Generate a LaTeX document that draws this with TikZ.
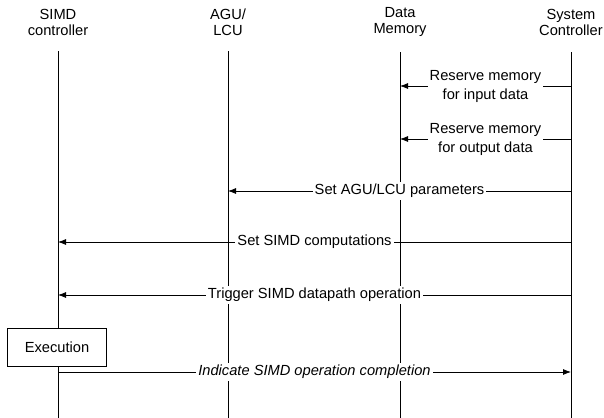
\documentclass[tikz,border=0pt]{standalone}
\usepackage{fontspec}
\setmainfont{Liberation Sans}
\usepackage{tikz}
\usetikzlibrary{arrows.meta}

\begin{document}
\begin{tikzpicture}[x=0.75pt,y=0.75pt,yscale=-1,
  font=\fontsize{11}{14.25}\selectfont,
  head/.style={align=center,inner sep=0.75pt,font=\fontsize{11}{12}\selectfont},
  life/.style={line width=0.6pt},
  msg/.style={line width=0.6pt,-{Latex[length=6pt,width=4.5pt]}},
  lbl/.style={fill=white,inner sep=1.5pt,align=center}]
\useasboundingbox (0,0) rectangle (604,418);

% Text Node
\node[head] (simd) at (58,22) {SIMD\\controller};
% Text Node
\node[head] (agu) at (228,22) {AGU/\\LCU};
% Text Node
\node[head] (mem) at (400,22) {Data\\Memory};
% Text Node
\node[head] (sys) at (571,22) {System\\Controller};

%Shape: Rectangle
\node[draw,line width=0.6pt,minimum width=74pt,minimum height=28pt,inner sep=0pt] (exec) at (57,347.5) {Execution};

% lifeline ends
\coordinate (simdtop) at (58,51);
\coordinate (simdbot) at (58,418);
\coordinate (agutop) at (228,51);
\coordinate (agubot) at (228,418);
\coordinate (memtop) at (400,52);
\coordinate (membot) at (400,418);
\coordinate (systop) at (571,52);
\coordinate (sysbot) at (571,418);

%Straight Lines
\draw[life] (simdtop) -- (simdtop |- exec.north);
\draw[life] (simdbot |- exec.south) -- (simdbot);
\draw[life] (agutop) -- (agubot);
\draw[life,line width=0.7pt] (memtop) -- (membot);
\draw[life] (systop) -- (sysbot);

% messages
\coordinate (s1) at (571,86);  \coordinate (m1) at (400,86);
\coordinate (s2) at (571,139); \coordinate (m2) at (400,139);
\coordinate (s3) at (571,191); \coordinate (a3) at (228,191);
\coordinate (s4) at (571,242); \coordinate (c4) at (58,242);
\coordinate (s5) at (571,295); \coordinate (c5) at (58,295);
\coordinate (c6) at (58,372);  \coordinate (s6) at (571,372);

\draw[msg] (s1) -- (m1) node[midway,lbl] {Reserve memory\\for input data};
\draw[msg] (s2) -- (m2) node[midway,lbl] {Reserve memory\\for output data};
\draw[msg] (s3) -- (a3) node[midway,lbl] {Set AGU/LCU parameters};
\draw[msg] (s4) -- (c4) node[midway,lbl] {Set SIMD computations};
\draw[msg] (s5) -- (c5) node[midway,lbl] {Trigger SIMD datapath operation};
\draw[msg] (c6) -- (s6) node[midway,lbl,font=\fontsize{11}{14.25}\selectfont\itshape] {Indicate SIMD operation completion};

\end{tikzpicture}
\end{document}
